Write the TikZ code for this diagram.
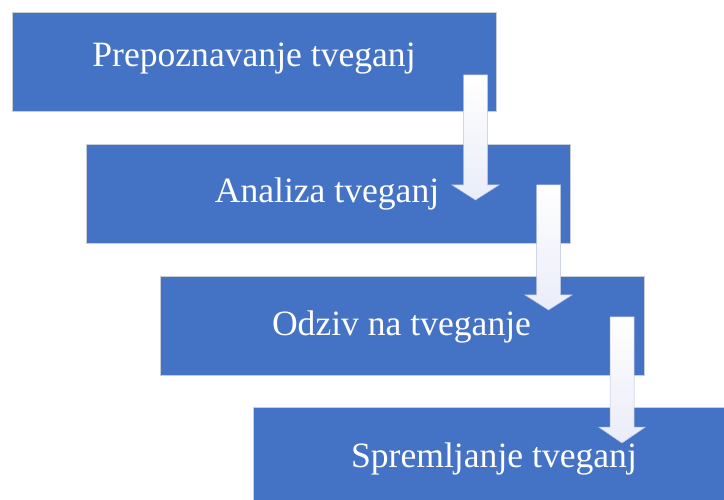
\documentclass[tikz,border=0pt]{standalone}
\usepackage{fontspec}
\setmainfont{Liberation Serif}
\definecolor{boxblue}{RGB}{68,114,196}
\definecolor{boxedge}{RGB}{200,204,214}
\definecolor{arrowlav}{RGB}{234,236,248}
\definecolor{arrowedge}{RGB}{186,194,220}
\tikzset{
  stepbox/.style={draw=boxedge, line width=0.7pt, fill=boxblue, inner sep=0pt,
    minimum width=484pt, minimum height=99pt, anchor=north west},
  steptext/.style={text=white, anchor=base, inner sep=0pt,
    font=\fontsize{35.6}{42}\selectfont},
  downarrow/.style={draw=arrowedge, line width=0.5pt, top color=white, bottom color=arrowlav}
}
\newcommand{\flowarrow}[4]{% center x, top y, head y, tip y
  \path[downarrow] (#1-12,#2) -- (#1+12,#2) -- (#1+12,#3) -- (#1+23.5,#3)
    -- (#1,#4) -- (#1-23.5,#3) -- (#1-12,#3) -- cycle;}
\begin{document}
\begin{tikzpicture}[x=1pt,y=-1pt]
\useasboundingbox (0,0) rectangle (724,500);
\node[stepbox] (b1) at (12,12) {};
\node[stepbox] (b2) at (86,144) {};
\node[stepbox] (b3) at (160,276) {};
\node[stepbox] (b4) at (253,407) {};
\node[steptext] (t1) at (254,67) {Prepoznavanje tveganj};
\node[steptext] (t2) at (327,203) {Analiza tveganj};
\node[steptext] (t3) at (401.5,335) {Odziv na tveganje};
\node[steptext] (t4) at (494,467) {Spremljanje tveganj};
\flowarrow{475.5}{75}{185}{200}
\flowarrow{548.5}{185}{295}{310}
\flowarrow{622}{317}{427}{443}
\end{tikzpicture}
\end{document}
